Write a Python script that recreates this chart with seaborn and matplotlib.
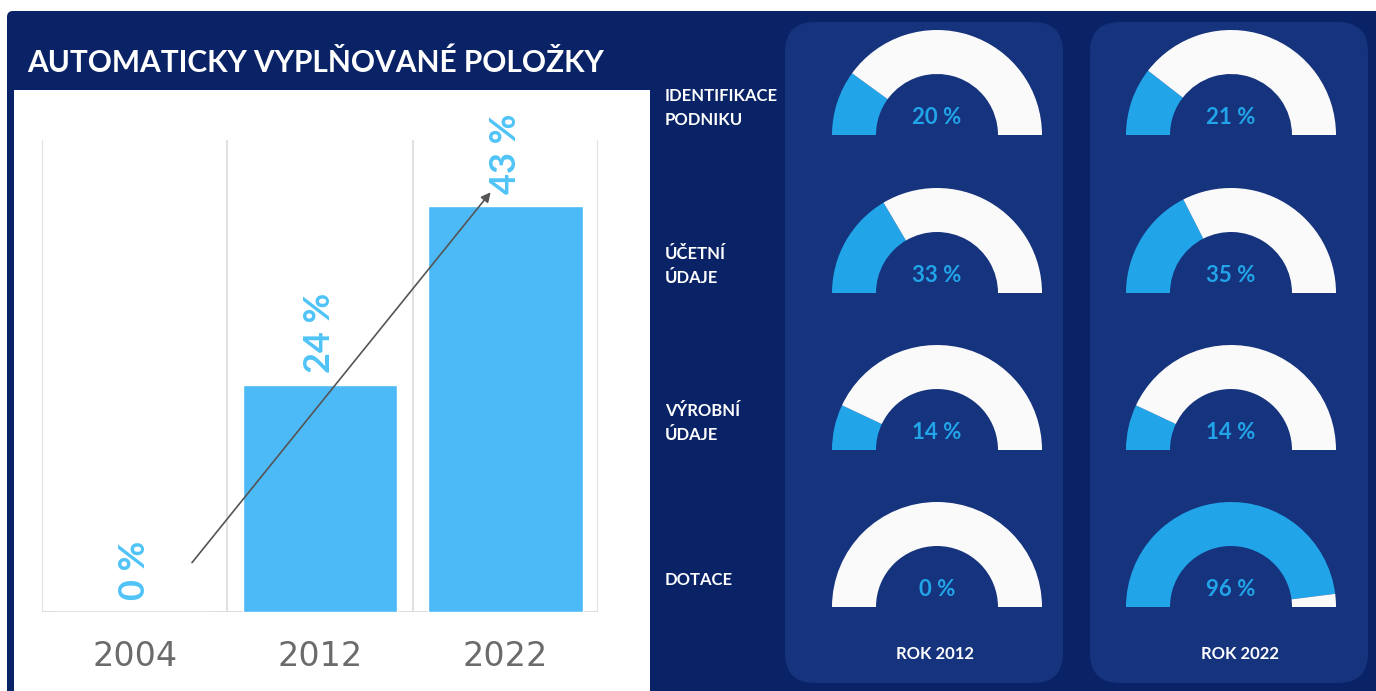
import numpy as np
import pandas as pd
import matplotlib.pyplot as plt
import seaborn as sns
from matplotlib.patches import Wedge, Rectangle, FancyBboxPatch

#%% data
years = ['2004', '2012', '2022']
auto_share = [0, 24, 43]
row_labels = ['IDENTIFIKACE\nPODNIKU', 'ÚČETNÍ\nÚDAJE', 'VÝROBNÍ\nÚDAJE', 'DOTACE']
share_2012 = [20, 33, 14, 0]
share_2022 = [21, 35, 14, 96]
panel_titles = ['ROK 2012', 'ROK 2022']
title = 'AUTOMATICKY VYPLŇOVANÉ POLOŽKY'

#%% colours
navy = '#0A2366'
panel = '#16337E'
bar_blue = '#4CBAF6'
label_blue = '#4FC3F7'
gauge_blue = '#22A4E8'
ring_white = '#FAFAFA'

sns.set_theme(style='white')
plt.rcParams['font.family'] = ['Lato', 'DejaVu Sans']

fig = plt.figure(figsize=(13.76, 6.91), dpi=100, facecolor='white')

# background canvas in pixel units (y downwards)
bg = fig.add_axes([0, 0, 1, 1])
bg.set_xlim(0, 1376)
bg.set_ylim(691, 0)
bg.axis('off')
bg.add_patch(FancyBboxPatch((7, 11), 1400, 720, boxstyle='round,pad=0,rounding_size=6',
                            fc=navy, ec='none'))
bg.add_patch(Rectangle((14, 90), 636, 610, fc='white', ec='none'))
bg.text(27, 63, title, color='white', fontsize=21.5, fontweight='bold', va='center')

# right side panels
col_x = [937, 1231]
row_y = [135, 293, 450, 607]
for x0, name in zip([785, 1090], panel_titles):
    bg.add_patch(FancyBboxPatch((x0, 22), 278, 661, boxstyle='round,pad=0,rounding_size=30',
                                fc=panel, ec='none'))
    bg.text(x0 + 150, 654, name, color='white', fontsize=12, fontweight='bold',
            ha='center', va='center')

for lab, y in zip(row_labels, row_y):
    bg.text(665, y - 27, lab, color='white', fontsize=12, fontweight='bold',
            va='center', ha='left', linespacing=1.55)

r_out, ring = 105, 44
for cx, vals in zip(col_x, [share_2012, share_2022]):
    for y, v in zip(row_y, vals):
        split = 180 + 1.8 * v
        if v > 0:
            bg.add_patch(Wedge((cx, y), r_out, 180, split, width=ring, fc=gauge_blue, ec='none'))
        bg.add_patch(Wedge((cx, y), r_out, split, 360, width=ring, fc=ring_white, ec='none'))
        bg.text(cx, y - 18, f'{v} %', color=gauge_blue, fontsize=16, fontweight='bold',
                ha='center', va='center')

#%% bar chart
ax = fig.add_axes([0.0305, 0.1143, 0.4041, 0.683])
ax.set_facecolor('none')
sns.barplot(x=years, y=auto_share, color=bar_blue, saturation=1, width=0.835, ax=ax)
ax.set_xlim(-0.5, 2.5)
ax.set_ylim(0, 50)
sns.despine(ax=ax, left=True, bottom=True)
for xv in [-0.5, 0.5, 1.5, 2.5]:
    ax.axvline(xv, color='#E2E2E2', lw=1.5, zorder=0)
ax.axhline(0, color='#D9D9D9', lw=2, zorder=0)
ax.set_yticks([])
ax.set_xlabel('')
ax.set_ylabel('')
ax.tick_params(axis='x', length=0, pad=20)
for t in ax.get_xticklabels():
    t.set_fontsize(24)
    t.set_color('#6B6B6B')
    t.set_family('DejaVu Sans')

for p, v in zip(ax.patches, auto_share):
    ax.annotate(f'{v} %', (p.get_x() + p.get_width() / 2, v), xytext=(0, 9),
                textcoords='offset points', rotation=90, ha='center', va='bottom',
                fontsize=26, fontweight='bold', color=label_blue)

ax.annotate('', xy=(1.93, 44.7), xytext=(0.3, 5.0),
            arrowprops=dict(arrowstyle='-|>', color='#555555', lw=1.2, mutation_scale=14))

fig.savefig('out.png', dpi=100, facecolor='white')
